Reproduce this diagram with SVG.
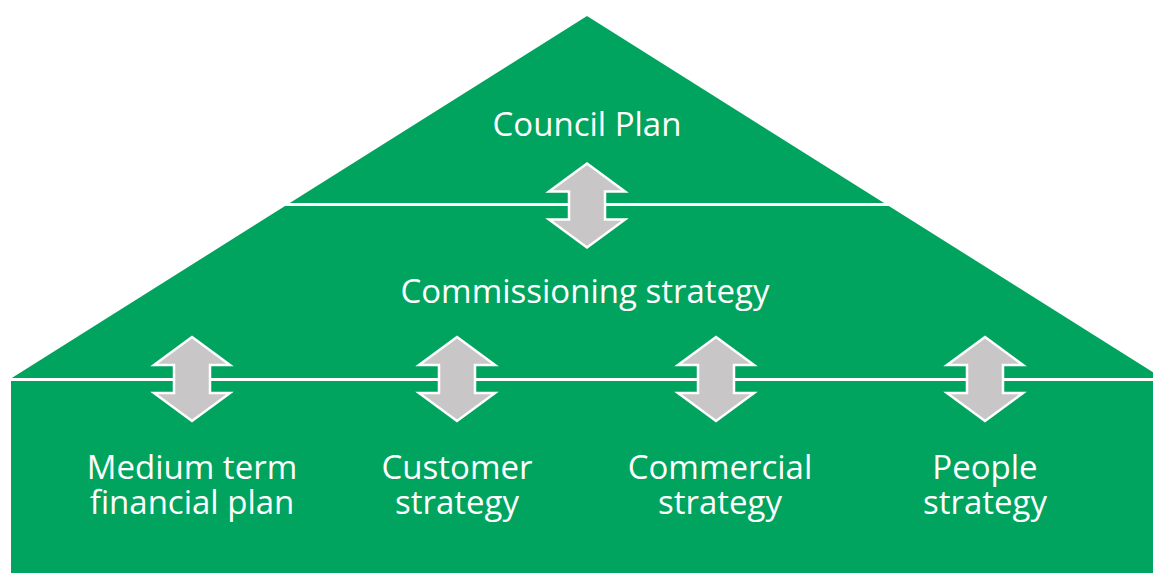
<svg xmlns="http://www.w3.org/2000/svg" xmlns:xlink="http://www.w3.org/1999/xlink" width="1153" height="573" viewBox="0 0 1153 573">
<style>
.g{fill:#00A45E}
.sep{stroke:#fff;stroke-width:3;fill:none}
.arr{fill:#C8C6C7;stroke:#fff;stroke-width:2.5;stroke-linejoin:miter}
.t{font-family:"Open Sans","Noto Sans","Liberation Sans",sans-serif;fill:#fff;font-size:33px;text-anchor:middle}
</style>
<defs>
<path id="dbl" class="arr" d="M0,-42 L38,-14 L18,-14 L18,14 L38,14 L0,42 L-38,14 L-18,14 L-18,-14 L-38,-14 Z"/>
</defs>
<rect width="1153" height="573" fill="#fff"/>
<g id="house">
<polygon class="g" points="587,16 7,381 1167,381"/>
<rect class="g" x="11" y="378" width="1142" height="195"/>
</g>
<g id="connectors">
<line class="sep" x1="0" y1="204.5" x2="1153" y2="204.5"/>
<line class="sep" x1="0" y1="379.5" x2="1153" y2="379.5"/>
<use xlink:href="#dbl" x="587" y="205.5"/>
<use xlink:href="#dbl" x="192" y="379"/>
<use xlink:href="#dbl" x="457" y="379"/>
<use xlink:href="#dbl" x="716" y="379"/>
<use xlink:href="#dbl" x="985" y="379"/>
</g>
<g id="council-plan"><text class="t" x="587" y="136">Council Plan</text></g>
<g id="commissioning"><text class="t" x="585" y="303">Commissioning strategy</text></g>
<g id="mtfp"><text class="t" x="192" y="479">Medium term</text><text class="t" x="192" y="514">financial plan</text></g>
<g id="customer"><text class="t" x="457" y="479">Customer</text><text class="t" x="457" y="514">strategy</text></g>
<g id="commercial"><text class="t" x="720" y="479">Commercial</text><text class="t" x="720" y="514">strategy</text></g>
<g id="people"><text class="t" x="985" y="479">People</text><text class="t" x="985" y="514">strategy</text></g>
</svg>
